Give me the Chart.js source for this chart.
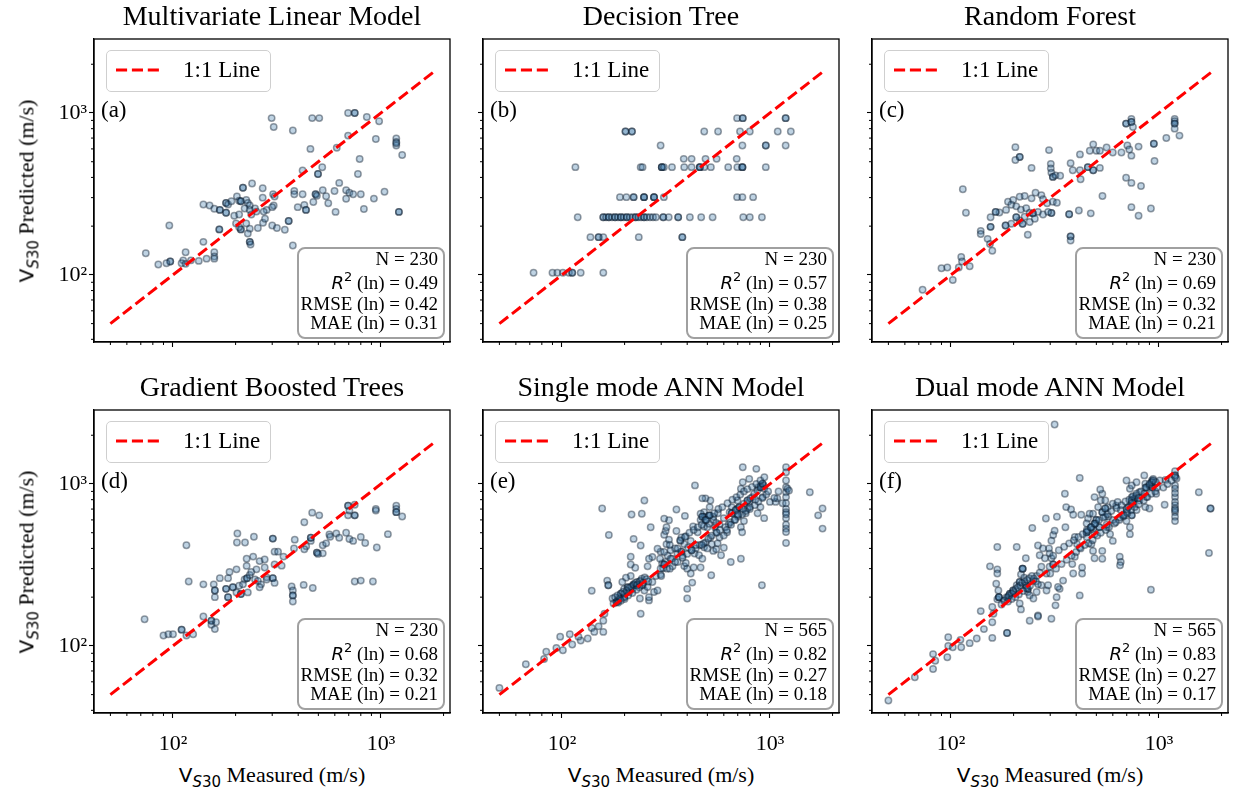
<!DOCTYPE html>
<html><head><meta charset="utf-8">
<script src="https://cdn.jsdelivr.net/npm/chart.js@4.4.0/dist/chart.umd.min.js"></script>
<style>
html,body{margin:0;padding:0;background:#fff;width:1233px;height:793px;overflow:hidden;}
#fig{position:relative;width:1233px;height:793px;background:#fff;}
canvas{position:absolute;}
.t{position:absolute;white-space:nowrap;font-family:'Liberation Serif',serif;color:#000;}
.box{position:absolute;box-sizing:border-box;}
</style></head>
<body><div id="fig"></div>
<script>
// ---------------- data ----------------
const panelTitles = ['Multivariate Linear Model','Decision Tree','Random Forest','Gradient Boosted Trees','Single mode ANN Model','Dual mode ANN Model'];
const panelLetters = ['(a)','(b)','(c)','(d)','(e)','(f)'];
const sampleSizes = [230,230,230,230,565,565];
const r2Values = ['0.49','0.57','0.69','0.68','0.82','0.83'];
const rmseValues = ['0.42','0.38','0.32','0.32','0.27','0.27'];
const maeValues = ['0.31','0.25','0.21','0.21','0.18','0.17'];
const oneToOneRange = [50, 1795];
const xAxisRange = [41.7, 2148];
const yAxisRange = [38.5, 2864];
const xTickValues = [50,60,70,80,90,100,200,300,400,500,600,700,800,900,1000,2000];
const yTickValues = [40,50,60,70,80,90,100,200,300,400,500,600,700,800,900,1000,2000];
const majorTickLabels = {100:'10\u00B2', 1000:'10\u00B3'};

// [measured, predicted] pairs (m/s)
const mlrPoints = [[298,930],[305,820],[467,930],[505,930],[377,780],[695,1000],[748,1000],[748,1000],[855,945],[980,890],[695,725],[945,690],[1185,695],[1185,662],[1185,630],[1185,650],[1265,550],[458,600],[613,610],[790,520],[420,442],[522,462],[498,420],[498,420],[775,420],[630,370],[525,333],[217,345],[217,345],[240,367],[270,343],[598,330],[680,333],[705,322],[735,315],[800,315],[925,296],[1040,326],[383,330],[383,315],[420,315],[485,315],[485,315],[492,308],[545,306],[680,295],[473,282],[558,277],[428,270],[398,262],[436,252],[436,252],[605,245],[828,255],[1220,245],[1220,245],[303,315],[308,305],[270,300],[305,268],[300,262],[282,252],[140,272],[150,268],[158,256],[168,252],[168,252],[180,278],[180,278],[184,272],[191,285],[203,305],[208,287],[212,285],[212,285],[225,290],[229,278],[234,268],[248,257],[252,246],[221,257],[180,242],[180,242],[197,232],[208,236],[234,252],[273,246],[167,191],[167,191],[212,191],[212,191],[208,197],[234,193],[256,195],[271,210],[277,222],[238,236],[225,208],[201,208],[300,202],[316,195],[345,190],[360,215],[360,215],[229,180],[234,160],[234,160],[236,154],[377,152],[96,202],[140,160],[115,138],[158,138],[158,130],[158,126],[145,126],[133,122],[122,123],[112,123],[110,118],[115,117],[97,121],[97,121],[93,118],[85,116],[74,136]];

const dtPoints = [[695,929],[740,929],[740,929],[1190,929],[1190,929],
[202,769],[202,769],[217,769],[217,769],[483,769],[563,769],[718,769],[800,769],[1090,769],[1260,769],
[298,630],[737,630],[955,630],[955,630],[1190,630],
[385,521],[420,521],[490,521],[554,521],[692,521],
[116,463],[239,463],[244,463],[302,463],[302,463],[302,463],[309,463],[338,463],[387,463],[420,463],[460,463],[460,463],[460,463],[483,463],[520,463],[630,463],[697,463],[737,463],[737,463],[737,463],[955,463],
[190,302],[204,302],[221,302],[221,302],[248,302],[248,302],[248,302],[277,302],[277,302],[277,302],[309,302],[695,302],[737,302],[830,302],
[119,227],[158,227],[158,227],[163,227],[168,227],[168,227],[174,227],[180,227],[180,227],[186,227],[192,227],[192,227],[198,227],[205,227],[205,227],[212,227],[219,227],[226,227],[226,227],[233,227],[240,227],[248,227],[248,227],[256,227],[265,227],[274,227],[283,227],[307,227],[307,227],[326,227],[362,227],[362,227],[412,227],[467,227],[530,227],[744,227],[800,227],[915,227],
[137,171],[150,171],[150,171],[158,171],[234,171],[379,171],[379,171],
[73,103],[90,103],[95,103],[101,103],[108,103],[112,103],[112,103],[123,103],[158,103]];

const rfPoints = [[695,860],[695,860],[737,920],[737,880],[737,880],[750,820],[1190,920],[1190,890],[1190,860],[1190,860],[1190,800],[1085,700],[1255,725],
[204,615],[214,535],[214,535],[204,512],[296,590],[244,458],[302,485],[302,455],[304,427],[309,403],[309,403],[318,412],[335,410],[376,490],[385,443],[417,555],[420,390],[465,585],[483,640],[500,585],[520,585],[560,612],[600,570],[660,570],[705,630],[720,595],[737,545],[798,620],[945,645],[945,645],[952,505],[455,463],[455,463],[483,443],[483,443],[520,458],[417,443],
[695,398],[737,370],[820,354],[535,307],[737,262],[798,232],[915,257],[412,250],[470,240],[370,237],[370,237],[376,173],[376,173],[376,163],
[114,338],[118,242],[234,177],[304,241],[304,241],
[188,283],[199,290],[214,304],[226,307],[244,297],[255,322],[272,311],[277,293],[290,277],[309,283],[323,279],[195,271],[206,265],[217,253],[230,258],[239,242],[248,240],[248,240],[262,245],[277,236],[293,245],[171,243],[164,245],[164,245],[155,227],[155,198],[155,198],[183,202],[183,202],[195,207],[214,217],[221,207],[221,207],[239,212],[206,227],[206,227],[226,229],[253,222],[184,252],
[139,187],[139,179],[150,167],[154,155],[158,141],[112,129],[113,121],[123,113],[109,111],[90,110],[96,111],[102,93],[73,81]];

const gbtPoints = [[695,735],[695,735],[748,745],[695,640],[748,640],[748,640],[705,685],[945,700],[945,685],[1185,735],[1185,700],[1185,670],[1185,670],[1265,630],[467,665],[505,640],[428,580],[1080,490],[955,405],
[610,495],[630,465],[680,500],[705,457],[735,445],[800,470],[840,432],[565,488],[570,472],[525,418],[545,430],[460,445],[460,465],[460,465],[437,412],[428,395],[492,377],[492,377],[525,373],[498,370],[385,453],[382,400],
[204,495],[245,472],[203,435],[222,435],[302,460],[302,460],[308,382],[320,382],[340,356],[333,313],[308,318],[302,262],[302,262],[308,245],[282,265],[276,305],[116,418],[119,250],[140,240],[157,240],[168,262],[184,262],
[180,225],[180,225],[194,230],[194,230],[208,235],[221,257],[227,262],[227,262],[234,274],[248,257],[256,252],[265,240],[238,286],[226,312],[202,297],[187,286],[252,297],[261,334],[276,342],[243,356],[226,345],[159,220],[159,220],[159,200],[184,200],[184,200],[202,214],[212,209],[212,209],[229,214],[261,230],[282,257],[217,240],
[372,233],[377,220],[377,205],[377,205],[377,188],[425,238],[470,228],[748,250],[800,253],[915,250],
[140,152],[153,143],[153,143],[153,135],[161,140],[159,127],[73,146],[90,116],[95,118],[100,118],[110,126],[110,126],[116,116],[125,118]];

const singleAnnPoints = [[50,55],[67,77],[82,83],[84,92],[94,97],[98,114],[101,94],[109,118],[112,102],[123,108],[120,114],[133,111],[139,129],[143,122],[150,132],[158,122],[158,143],[160,158],[139,219],
[165,253],[167,237],[167,237],[175,196],[183,187],[183,187],[183,187],[188,200],[192,210],[192,210],[199,225],[207,230],[207,230],[211,215],[218,225],[221,237],[221,237],[221,237],[229,248],[239,253],[244,237],[244,237],[249,220],[258,231],[262,191],[277,215],[288,220],[214,270],[203,264],[195,248],[186,191],[177,183],[239,158],[237,196],[262,200],[272,248],[283,270],[298,276],[306,302],[314,330],[303,323],[296,345],[298,382],[288,398],[272,354],[262,345],[258,310],[225,304],[214,318],[214,355],[267,541],[249,790],[242,655],[216,648],[156,705],[168,484],[221,458],[239,417],
[322,362],[333,390],[318,425],[327,452],[310,486],[315,512],[318,540],[327,597],[310,611],[355,695],[355,512],[390,635],[394,476],[387,425],[404,405],[416,445],[387,311],[400,300],[416,280],[430,305],[464,305],[400,225],[400,196],[423,246],[434,372],[456,363],[473,345],[482,407],[490,436],[517,467],[525,425],[534,386],[552,395],[572,467],[582,363],[600,404],[648,330],[725,345],[522,273],[449,503],[427,546],[482,546],[500,540],[510,568],[482,670],[513,720],[517,790],[490,815],[482,627],[464,600],[534,627],[544,540],[552,503],[562,660],[600,615],[622,503],[633,565],[640,670],[655,720],[698,705],[702,627],[725,540],[735,503],[750,590],[765,660],[780,705],[795,775],[698,790],[725,935],[740,1025],[740,1270],[795,1075],[860,1240],[822,830],[880,955],[905,980],[930,980],[938,935],[922,830],[900,720],[872,660],[938,615],[1000,775],[1065,775],[1085,815],[1195,1270],[1195,1180],[1195,955],[1195,890],[1195,830],[1195,700],[1195,670],[1195,615],[1195,560],[1195,530],[1195,505],[1195,432],[1215,935],[1235,910],[1555,890],[1705,640],[1790,705],[1790,530],[915,237],[436,980],[473,815],[394,325],[338,345],[359,372],[371,445],[375,467],
[464,655],[473,627],[473,627],[490,600],[490,600],[510,640],[510,640],[534,600],[552,575],[572,565],[655,660],[655,660],[685,690],[685,690],[712,720],[712,720],[750,755],[780,790],[780,790],[805,815],[840,870],[870,910],[900,955],[900,955],[922,1005],[922,1005],[375,382],[375,382],[333,345],[310,318],[310,318],[298,300],[229,237],[229,237],[199,200],[199,200],
[180,200],[185,205],[190,195],[196,215],[200,210],[205,220],[210,228],[215,232],[220,240],[225,245],[230,238],[236,250],[242,260],[250,265],[255,258],[260,250],[245,245],[235,230],[228,222],[218,212],[208,205],[200,195],[192,190],[186,185],
[300,270],[310,380],[320,300],[330,420],[340,310],[350,400],[360,330],[370,450],[380,360],[390,470],[400,370],[410,500],[420,390],[430,520],[440,400],[450,540],[460,420],[470,560],[480,430],[495,600],[505,460],[515,640],[525,480],[540,660],[555,500],[565,700],[575,520],[590,720],[610,540],[625,760],[645,580],[660,800],[675,600],[690,830],[705,640],[720,860],[735,650],[750,900],[765,680],[780,930],[800,700],[820,960],[845,740],[860,1000],[880,780],[900,1050],[920,820],[940,1100],[960,860],[980,900],[1050,820],[1100,900],[1150,760],[1195,1050],[1195,760],[1195,650],[560,430],[600,480],[620,520],[650,560],[680,600],[700,650],[740,700],[800,720],[850,800],[500,400],[470,420],[440,420],[420,390],[360,400],[330,300],[350,330],[380,350]];

const dualAnnPoints = [[50,46],[67,64],[82,72],[82,89],[84,81],[96,85],[97,100],[97,113],[102,98],[111,109],[112,98],[123,104],[133,111],[139,164],[144,127],[158,112],[158,140],[160,158],[158,174],[167,194],[186,120],[186,120],
[154,310],[167,297],[167,280],[165,242],[169,220],[170,200],[170,200],[170,200],[181,191],[188,200],[188,200],[192,210],[192,210],[199,220],[199,220],[207,237],[214,248],[214,248],[217,276],[221,300],[221,300],[221,300],[225,264],[229,237],[229,237],[234,215],[239,205],[214,183],[217,168],[234,225],[234,225],[249,253],[258,270],[267,283],[272,237],[258,215],[249,196],[262,154],[239,143],[288,220],[293,237],[298,308],[310,318],[310,318],[304,348],[298,373],[296,400],[304,446],[310,484],[315,515],[267,363],[262,417],[283,348],[277,400],[229,348],[207,408],[167,408],[246,535],[286,612],[323,627],[358,720],[355,540],[404,425],[383,320],[394,355],[427,305],[427,280],[387,280],[416,205],[318,178],[333,225],[346,253],[288,280],[272,308],
[353,870],[378,695],[387,645],[394,470],[416,405],[449,470],[456,512],[482,525],[490,490],[473,425],[482,386],[490,348],[456,612],[449,570],[464,655],[482,655],[510,720],[490,830],[525,790],[534,870],[522,925],[552,790],[568,720],[572,627],[562,540],[582,490],[600,445],[534,386],[534,345],[648,355],[655,330],[650,315],[416,1090],[552,627],[500,600],[500,600],[517,540],[517,540],[622,735],[655,690],[670,640],[698,670],[698,590],[725,540],[725,490],[740,640],[740,640],[750,755],[765,815],[765,815],[780,690],[805,790],[740,830],[725,935],[740,980],[698,1050],[780,1025],[850,1130],[860,1005],[870,945],[900,980],[900,980],[925,1050],[938,1075],[930,955],[930,955],[870,830],[860,720],[900,705],[970,870],[1065,745],[1075,1060],[1010,1050],[1195,1200],[1195,1130],[1195,1130],[1215,1080],[1195,980],[1195,935],[1195,830],[1195,775],[1195,740],[1195,705],[1195,670],[1195,627],[1195,590],[1555,890],[1770,705],[1770,705],[1740,375],[915,222],[423,645],[327,231],[322,200],[304,147],[262,152],[315,2330],
[449,503],[449,503],[473,540],[473,540],[490,568],[490,568],[534,670],[534,670],[552,705],[552,705],[600,755],[633,775],[712,720],[712,720],[740,790],[740,790],[780,850],[805,890],[870,955],[925,1025],[925,1025],[965,1025],
[180,190],[185,200],[190,205],[196,210],[200,215],[205,225],[210,230],[215,235],[220,245],[226,250],[232,255],[238,262],[245,270],[250,260],[256,250],[262,240],[240,235],[230,228],[222,218],[212,208],[204,200],[196,195],[188,188],[175,180],
[300,280],[310,360],[320,300],[330,390],[340,320],[350,410],[360,340],[370,430],[380,360],[390,450],[400,380],[410,470],[420,400],[430,490],[440,420],[450,520],[460,430],[470,540],[480,450],[495,570],[505,480],[515,600],[525,500],[540,620],[555,520],[565,650],[575,540],[590,680],[610,570],[625,710],[645,600],[660,740],[675,630],[690,780],[705,660],[720,800],[735,690],[750,840],[765,720],[780,870],[800,750],[820,900],[845,790],[860,950],[880,830],[900,1000],[920,870],[940,1050],[960,900],[980,950],[1050,950],[1100,1000],[1150,1050],[1195,1100],[1195,880],[1195,690],[560,560],[600,600],[620,580],[650,620],[680,640],[700,700],[740,760],[800,820],[850,870]];

const panelPoints = [mlrPoints, dtPoints, rfPoints, gbtPoints, singleAnnPoints, dualAnnPoints];

// ---------------- layout ----------------
const fig = document.getElementById('fig');
const PL = [94, 483, 872], PT = [39, 410], PW = 356, PH = 303;
const ML = 70, MT = 8, MR = 8, MB = 40;
const SERIF = "'Liberation Serif', 'Times New Roman', serif";
const SANS = "'DejaVu Sans', sans-serif";

function placeText(html, x, baseline, size, align) {
  const d = document.createElement('div');
  d.className = 't';
  d.style.fontSize = size + 'px';
  d.innerHTML = html + '<span class="bm" style="display:inline-block;width:0;height:0;vertical-align:baseline"></span>';
  fig.appendChild(d);
  const bOff = d.querySelector('.bm').offsetTop;
  const w = d.getBoundingClientRect().width;
  const left = align === 'center' ? x - w / 2 : (align === 'right' ? x - w : x);
  d.style.left = left + 'px';
  d.style.top = (baseline - bOff) + 'px';
  return {d, w, bOff};
}

const framePlugin = {
  id: 'frameMinor',
  afterDraw(chart) {
    const {ctx, chartArea: a, scales} = chart;
    ctx.save();
    ctx.strokeStyle = '#000';
    ctx.lineWidth = 1;
    ctx.beginPath();
    for (const v of xTickValues) {
      if (majorTickLabels[v]) continue;
      const px = scales.x.getPixelForValue(v);
      ctx.moveTo(px, a.bottom); ctx.lineTo(px, a.bottom + 3);
    }
    for (const v of yTickValues) {
      if (majorTickLabels[v]) continue;
      const py = scales.y.getPixelForValue(v);
      ctx.moveTo(a.left, py); ctx.lineTo(a.left - 3, py);
    }
    ctx.stroke();
    ctx.lineWidth = 1.3;
    ctx.strokeRect(a.left, a.top, a.right - a.left, a.bottom - a.top);
    ctx.restore();
  }
};

function makePanel(i) {
  const col = i % 3, row = Math.floor(i / 3);
  const L = PL[col], T = PT[row], R = L + PW, B = T + PH;
  const cv = document.createElement('canvas');
  cv.width = PW + ML + MR; cv.height = PH + MT + MB;
  cv.style.left = (L - ML) + 'px'; cv.style.top = (T - MT) + 'px';
  cv.style.width = cv.width + 'px'; cv.style.height = cv.height + 'px';
  fig.appendChild(cv);
  const showX = row === 1, showY = col === 0;
  const tickColor = (c) => (c.tick && majorTickLabels[c.tick.value]) ? '#000' : 'rgba(0,0,0,0)';
  new Chart(cv, {
    type: 'scatter',
    data: {
      datasets: [
        {
          label: '1:1 Line', type: 'line',
          data: oneToOneRange.map(v => ({x: v, y: v})),
          borderColor: '#ff0000', borderWidth: 3, borderDash: [11.1, 4.8],
          pointRadius: 0, fill: false, tension: 0
        },
        {
          label: 'Predictions',
          data: panelPoints[i].map(p => ({x: p[0], y: p[1]})),
          pointRadius: 3.2, pointBorderWidth: 1.5,
          backgroundColor: 'rgba(60,120,170,0.33)',
          borderColor: 'rgba(10,25,40,0.42)',
          pointHoverRadius: 3.2
        }
      ]
    },
    options: {
      responsive: false, devicePixelRatio: 1, animation: false,
      layout: {padding: {left: 0, top: MT, right: MR, bottom: 0}},
      plugins: {legend: {display: false}, tooltip: {enabled: false}, title: {display: false}},
      events: [],
      scales: {
        x: {
          type: 'logarithmic', position: 'bottom', min: xAxisRange[0], max: xAxisRange[1],
          afterBuildTicks: s => { s.ticks = xTickValues.map(v => ({value: v, major: !!majorTickLabels[v]})); },
          afterFit: s => { s.height = MB; s.paddingLeft = 0; s.paddingRight = 0; },
          grid: {drawOnChartArea: false, drawTicks: true, tickLength: 5, tickWidth: 1.1, tickColor: tickColor},
          border: {display: true, color: '#000', width: 1.3},
          ticks: {autoSkip: false, maxRotation: 0, minRotation: 0, padding: 13, color: '#000',
            font: {family: SERIF, size: 22},
            callback: v => showX ? (majorTickLabels[v] || '') : ''}
        },
        y: {
          type: 'logarithmic', position: 'left', min: yAxisRange[0], max: yAxisRange[1],
          afterBuildTicks: s => { s.ticks = yTickValues.map(v => ({value: v, major: !!majorTickLabels[v]})); },
          afterFit: s => { s.width = ML; s.paddingTop = 0; s.paddingBottom = 0; },
          grid: {drawOnChartArea: false, drawTicks: true, tickLength: 5, tickWidth: 1.1, tickColor: tickColor},
          border: {display: true, color: '#000', width: 1.3},
          ticks: {autoSkip: false, padding: 2, color: '#000',
            font: {family: SERIF, size: 22},
            callback: v => showY ? (majorTickLabels[v] || '') : ''}
        }
      }
    },
    plugins: [framePlugin]
  });

  // title
  placeText(panelTitles[i], L + PW / 2, T - 14, 28, 'center');
  // legend
  const lg = document.createElement('div');
  lg.className = 'box';
  Object.assign(lg.style, {left: (L + 12) + 'px', top: (T + 11) + 'px', width: '165px', height: '42px',
    border: '1.5px solid #cfcfcf', borderRadius: '5px', background: 'rgba(255,255,255,0.8)'});
  lg.innerHTML = '<svg width="165" height="42" style="position:absolute;left:-1.5px;top:-1.5px"><line x1="10" y1="20" x2="57" y2="20" stroke="#ff0000" stroke-width="3" stroke-dasharray="11.1 4.8"/></svg>';
  fig.appendChild(lg);
  placeText('1:1 Line', L + 89, T + 38, 23, 'left');
  // panel letter
  placeText(panelLetters[i], L + 7, T + 78, 23, 'left');
  // stats box
  const sb = document.createElement('div');
  sb.className = 'box';
  Object.assign(sb.style, {left: (R - 153) + 'px', top: (B - 95) + 'px', width: '148px', height: '92px',
    border: '2px solid #a0a0a0', borderRadius: '8px', background: 'rgba(255,255,255,0.8)'});
  fig.appendChild(sb);
  const sx = R - 12;
  placeText('N = ' + sampleSizes[i], sx, B - 77.5, 19, 'right');
  placeText('<span style="font-family:' + SANS + ';font-style:italic;font-size:18px">R</span><span style="font-family:' + SANS + ';font-size:13px;position:relative;top:-8px">2</span> (ln) = ' + r2Values[i], sx, B - 53.5, 19, 'right');
  placeText('RMSE (ln) = ' + rmseValues[i], sx, B - 32.5, 19, 'right');
  placeText('MAE (ln) = ' + maeValues[i], sx, B - 13, 19, 'right');

  const vs30 = '<span style="font-family:' + SANS + ';font-size:20px">V</span><span style="font-family:' + SANS + ';font-size:15px;position:relative;top:5px"><i>S</i>30</span>';
  if (showX) {
    placeText(vs30 + ' Measured (m/s)', L + PW / 2, B + 69, 22, 'center');
  }
  if (showY) {
    const r = placeText(vs30 + ' Predicted (m/s)', L - 61, T + PH / 2, 22, 'center');
    r.d.style.transformOrigin = (r.w / 2) + 'px ' + r.bOff + 'px';
    r.d.style.transform = 'rotate(-90deg)';
  }
}

for (let i = 0; i < 6; i++) makePanel(i);
</script>
</body></html>
